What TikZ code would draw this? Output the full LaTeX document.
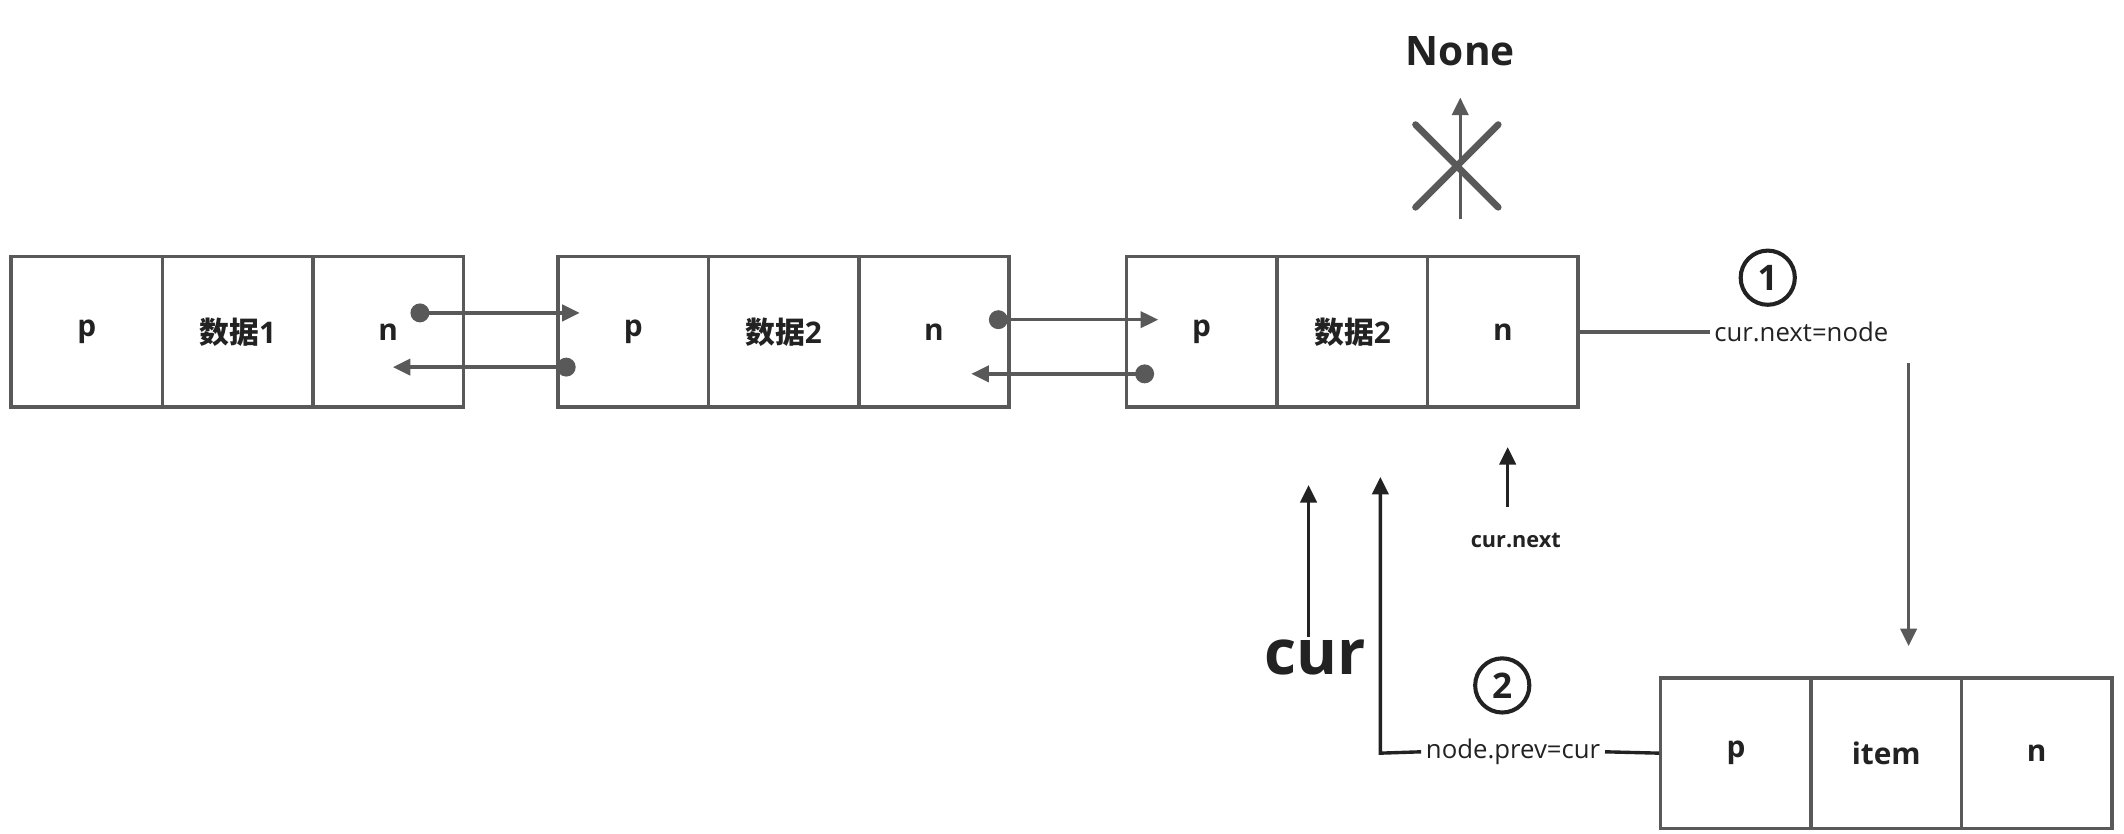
\documentclass[tikz,border=0pt]{standalone}
\usepackage{fontspec}
\setmainfont{Open Sans}
\newfontfamily\cjk{Noto Sans CJK SC}
\usetikzlibrary{arrows.meta}
\definecolor{ln}{HTML}{595959}
\definecolor{tx}{HTML}{222222}
\begin{document}
\begin{tikzpicture}[x=1pt,y=-1pt,
  cell/.style={draw=ln,line width=2.5pt,minimum width=111pt,minimum height=111pt,inner sep=0pt,font=\fontsize{22}{24}\selectfont\bfseries,text=tx},
  con/.style={ln,line width=2.5pt},
  arr/.style={con,-{Triangle[length=13pt,width=12pt]}},
  dot/.style={circle,fill=ln,inner sep=0pt,minimum size=14pt},
  lbl/.style={font=\fontsize{19}{21}\selectfont,text=tx}]
\useasboundingbox (0,0) rectangle (1568,615);
% box 1
\node[cell,minimum width=112pt] (a1) at (64,245) {p};
\node[cell] (a2) at (175.5,245) {{\cjk 数据}1};
\node[cell] (a3) at (286.5,245) {n};
% box 2
\node[cell] (b1) at (467.5,245) {p};
\node[cell] (b2) at (578.5,245) {{\cjk 数据}2};
\node[cell] (b3) at (689.5,245) {n};
% box 3
\node[cell] (c1) at (887,245) {p};
\node[cell] (c2) at (998.5,245) {{\cjk 数据}2};
\node[cell] (c3) at (1109.5,245) {n};
% box 4
\node[cell] (d1) at (1281.5,556) {p};
\node[cell] (d2) at (1392.5,556) {item};
\node[cell] (d3) at (1503.5,556) {n};
% pointers
\node[dot] (p1) at (310,231) {}; \coordinate (q1) at (428,231);
\draw[arr] (p1.center) -- (q1);
\node[dot] (p2) at (418,271) {}; \coordinate (q2) at (290,271);
\draw[arr] (p2.center) -- (q2);
\node[dot] (p3) at (737,236) {}; \coordinate (q3) at (855,236);
\draw[arr] (p3.center) -- (q3);
\node[dot] (p4) at (845,276) {}; \coordinate (q4) at (717,276);
\draw[arr] (p4.center) -- (q4);
% None
\node[font=\fontsize{30}{32}\selectfont\bfseries,text=tx] (none) at (1078,38) {None};
\coordinate (n0) at (1078,162); \coordinate (n1) at (1078,72);
\draw[arr] (n0) -- (n1);
\draw[con,line width=5pt,line cap=round] (1045,92) -- (1106,153) (1045,153) -- (1106,92);
% step 1
\node[lbl,anchor=west] (s1) at (1262,245) {cur.next=node};
\draw[con] (c3.east) -- (s1.west);
\node[circle,draw=tx,line width=3pt,inner sep=1pt,minimum size=40pt,font=\fontsize{26}{28}\selectfont\bfseries,text=tx] (c1n) at (1305,205) {1};
\coordinate (r0) at (1409,268); \coordinate (r1) at (1409,477);
\draw[arr] (r0) -- (r1);
% cur.next
\node[font=\fontsize{16}{18}\selectfont\bfseries,text=tx] (cn) at (1119,399) {cur.next};
\coordinate (cn0) at (1113,374); \coordinate (cn1) at (1113,330);
\draw[arr,tx] (cn0) -- (cn1);
% cur
\node[font=\fontsize{46}{48}\selectfont\bfseries,text=tx] (cur) at (971,485) {cur};
\coordinate (k0) at (966,470); \coordinate (k1) at (966,358);
\draw[arr,tx] (k0) -- (k1);
% step 2
\node[lbl] (s2) at (1117,555) {node.prev=cur};
\coordinate (m1) at (1019,352);
\draw[arr,tx] (s2.west) -- (1019,556) -- (m1);
\draw[con,tx] (s2.east) -- (d1.west);
\node[circle,draw=tx,line width=3pt,inner sep=1pt,minimum size=40pt,font=\fontsize{26}{28}\selectfont\bfseries,text=tx] (c2n) at (1109,506) {2};
\end{tikzpicture}
\end{document}
